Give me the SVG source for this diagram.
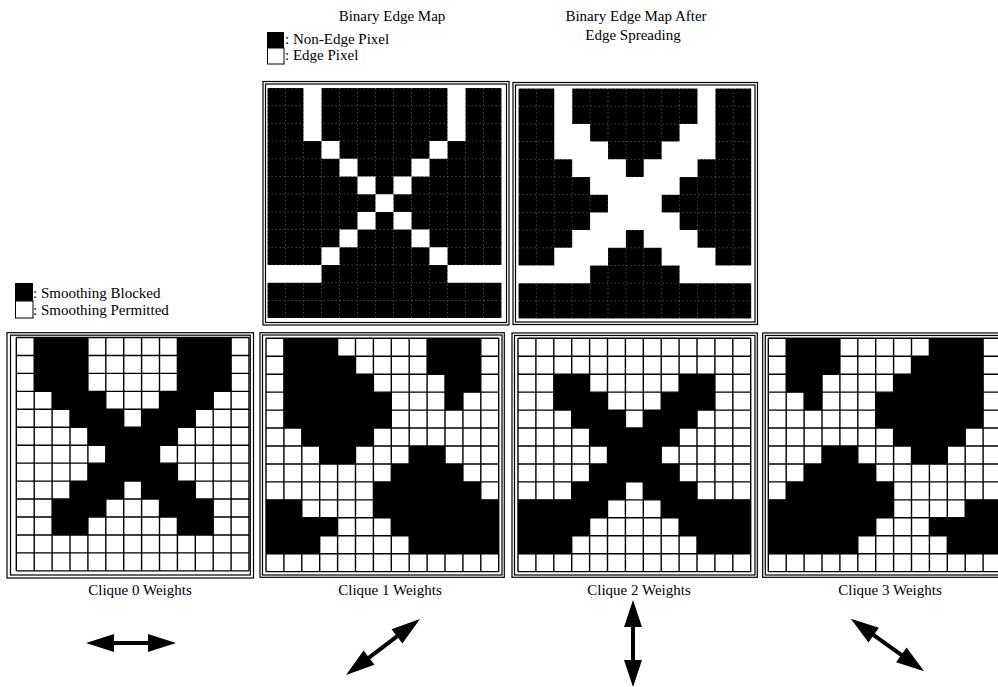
<svg xmlns="http://www.w3.org/2000/svg" width="998" height="687" viewBox="0 0 998 687">
<style>
text{font-family:"Liberation Serif","Times New Roman",serif;font-size:15px;fill:#000}
.mid{text-anchor:middle}
.frame{fill:none;stroke:#000;stroke-width:1.2}
.blk{fill:#000}
.bg{fill:#fff}
.gl{fill:none;stroke:#000;stroke-width:1.4}
.gf{fill:none;stroke:#fff;stroke-opacity:.35;stroke-width:.8;stroke-dasharray:1.5 2.5}
.arrow{fill:#000}
</style>
<defs>
<path id="grid" vector-effect="non-scaling-stroke" d="M0 0V13M1 0V13M2 0V13M3 0V13M4 0V13M5 0V13M6 0V13M7 0V13M8 0V13M9 0V13M10 0V13M11 0V13M12 0V13M13 0V13M0 0H13M0 1H13M0 2H13M0 3H13M0 4H13M0 5H13M0 6H13M0 7H13M0 8H13M0 9H13M0 10H13M0 11H13M0 12H13M0 13H13"/>
<path id="arr" d="M-45 0L-17 -9L-17 -2L17 -2L17 -9L45 0L17 9L17 2L-17 2L-17 9Z"/>
</defs>
<rect width="998" height="687" fill="#fff"/>

<g id="legend-edge">
<text x="285" y="44">: Non-Edge Pixel</text>
<text x="285" y="60">: Edge Pixel</text>
<rect x="267" y="32" width="17" height="16" fill="#000"/>
<rect x="267.5" y="48" width="16.5" height="16" fill="#fff" stroke="#000" stroke-width="1"/>
</g>

<g id="legend-smoothing">
<text x="33" y="298">: Smoothing Blocked</text>
<text x="33" y="315">: Smoothing Permitted</text>
<rect x="15" y="283" width="18" height="18" fill="#000"/>
<rect x="15.5" y="301" width="17.5" height="17" fill="#fff" stroke="#000" stroke-width="1"/>
</g>

<g id="binary-edge-map">
<text class="mid" x="392" y="21">Binary Edge Map</text>
<rect class="frame" x="263" y="81.5" width="246" height="243.5"/>
<rect class="frame" x="265.5" y="84" width="241" height="238.5"/>
<g transform="translate(267.5,88) scale(18,17.7)">
<rect class="bg" width="13" height="13"/>
<path class="blk" d="M0 0h2v3h-2z M3 0h7v3h-7z M11 0h2v3h-2z M0 3h3v1h-3z M4 3h5v1h-5z M10 3h3v1h-3z M0 4h4v1h-4z M5 4h3v1h-3z M9 4h4v1h-4z M0 5h5v1h-5z M6 5h1v1h-1z M8 5h5v1h-5z M0 6h6v1h-6z M7 6h6v1h-6z M0 7h5v1h-5z M6 7h1v1h-1z M8 7h5v1h-5z M0 8h4v1h-4z M5 8h3v1h-3z M9 8h4v1h-4z M0 9h3v1h-3z M4 9h5v1h-5z M10 9h3v1h-3z M3 10h7v1h-7z M0 11h13v2h-13z"/>
<use href="#grid" class="gf"/>
</g>
</g>

<g id="binary-edge-map-spread">
<text class="mid" x="636" y="21">Binary Edge Map After</text>
<text class="mid" x="633" y="40">Edge Spreading</text>
<rect class="frame" x="513" y="82.5" width="244.5" height="242"/>
<rect class="frame" x="515.5" y="85" width="239.5" height="237"/>
<g transform="translate(518.5,88.5) scale(17.9,17.7)">
<rect class="bg" width="13" height="13"/>
<path class="blk" d="M0 0h2v10h-2z M11 0h2v10h-2z M3 0h7v2h-7z M4 2h5v1h-5z M5 3h3v1h-3z M2 4h1v1h-1z M6 4h1v1h-1z M10 4h1v1h-1z M2 5h2v1h-2z M9 5h2v1h-2z M2 6h3v1h-3z M8 6h3v1h-3z M2 7h2v1h-2z M9 7h2v1h-2z M2 8h1v1h-1z M6 8h1v1h-1z M10 8h1v1h-1z M5 9h3v1h-3z M4 10h5v1h-5z M0 11h13v2h-13z"/>
<use href="#grid" class="gf"/>
</g>
</g>

<g id="clique-0">
<rect class="frame" x="7" y="332.7" width="246.5" height="245.3"/>
<rect class="frame" x="10.5" y="335.2" width="239.8" height="239.8"/>
<g transform="translate(16.3,337.5) scale(17.9,17.95)">
<rect class="bg" width="13" height="13"/>
<path class="blk" d="M1 0h3v3h-3z M9 0h3v3h-3z M2 3h3v1h-3z M8 3h3v1h-3z M3 4h3v1h-3z M7 4h3v1h-3z M4 5h5v1h-5z M5 6h3v1h-3z M4 7h5v1h-5z M3 8h3v1h-3z M7 8h3v1h-3z M2 9h3v1h-3z M8 9h3v1h-3z M2 10h2v1h-2z M9 10h2v1h-2z"/>
<use href="#grid" class="gl"/>
</g>
<text class="mid" x="140" y="595">Clique 0 Weights</text>
</g>

<g id="clique-1">
<rect class="frame" x="260" y="332.7" width="244.3" height="244.6"/>
<rect class="frame" x="262.5" y="335" width="239.5" height="240"/>
<g transform="translate(266,338.3) scale(17.9,17.95)">
<rect class="bg" width="13" height="13"/>
<path class="blk" d="M1 0h3v1h-3z M9 0h3v2h-3z M1 1h4v1h-4z M1 2h5v1h-5z M10 2h2v1h-2z M1 3h6v2h-6z M10 3h1v1h-1z M2 5h4v1h-4z M3 6h2v1h-2z M8 6h2v1h-2z M7 7h4v1h-4z M6 8h6v1h-6z M0 9h2v1h-2z M6 9h7v1h-7z M0 10h4v1h-4z M7 10h6v1h-6z M0 11h3v1h-3z M8 11h5v1h-5z"/>
<use href="#grid" class="gl"/>
</g>
<text class="mid" x="390" y="595">Clique 1 Weights</text>
</g>

<g id="clique-2">
<rect class="frame" x="512" y="333" width="245.3" height="244.3"/>
<rect class="frame" x="514.5" y="335.5" width="240.5" height="239.5"/>
<g transform="translate(518,338.3) scale(17.9,17.95)">
<rect class="bg" width="13" height="13"/>
<path class="blk" d="M2 2h2v1h-2z M9 2h2v1h-2z M2 3h3v1h-3z M8 3h3v1h-3z M3 4h3v1h-3z M7 4h3v1h-3z M4 5h5v1h-5z M5 6h3v1h-3z M4 7h5v1h-5z M3 8h3v1h-3z M7 8h3v1h-3z M0 9h5v1h-5z M8 9h5v1h-5z M0 10h4v1h-4z M9 10h4v1h-4z M0 11h3v1h-3z M10 11h3v1h-3z"/>
<use href="#grid" class="gl"/>
</g>
<text class="mid" x="639" y="595">Clique 2 Weights</text>
</g>

<g id="clique-3">
<rect class="frame" x="762.7" y="333" width="246" height="244.3"/>
<rect class="frame" x="765.3" y="335.5" width="241" height="239.5"/>
<g transform="translate(768.3,338.3) scale(17.9,17.95)">
<rect class="bg" width="13" height="13"/>
<path class="blk" d="M1 0h3v2h-3z M9 0h3v1h-3z M8 1h4v1h-4z M1 2h2v1h-2z M7 2h5v1h-5z M2 3h1v1h-1z M6 3h6v2h-6z M7 5h4v1h-4z M3 6h2v1h-2z M8 6h2v1h-2z M2 7h4v1h-4z M1 8h6v1h-6z M0 9h7v1h-7z M11 9h2v1h-2z M0 10h6v1h-6z M9 10h4v1h-4z M0 11h5v1h-5z M10 11h3v1h-3z"/>
<use href="#grid" class="gl"/>
</g>
<text class="mid" x="890" y="595">Clique 3 Weights</text>
</g>

<g id="direction-arrows">
<use href="#arr" class="arrow" transform="translate(131,643)"/>
<use href="#arr" class="arrow" transform="translate(383,647) rotate(-37.1) scale(1.03,1)"/>
<use href="#arr" class="arrow" transform="translate(633,643.5) rotate(90) scale(0.967,1)"/>
<use href="#arr" class="arrow" transform="translate(887.5,645) rotate(35.5)"/>
</g>
</svg>
